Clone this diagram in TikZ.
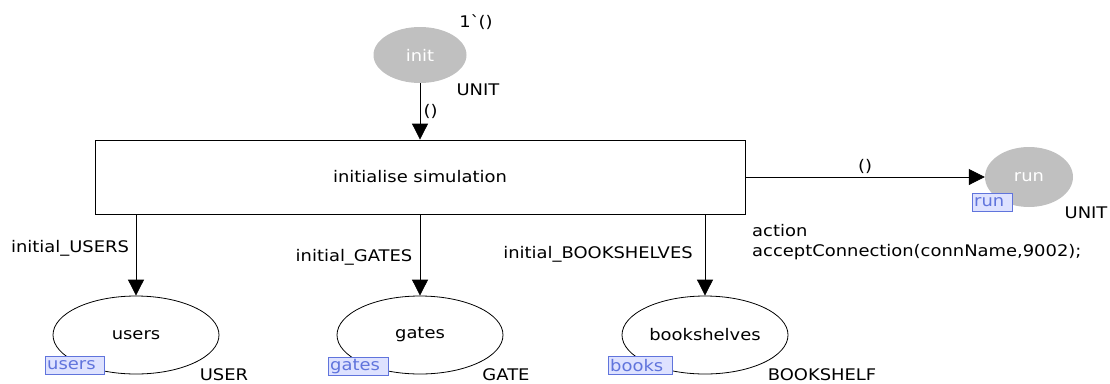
\documentclass[tikz,border=0pt]{standalone}
\usepackage{fontspec}
\setmainfont[FakeStretch=1.12]{DejaVu Sans}
\usetikzlibrary{shapes.geometric, arrows.meta, positioning}
\definecolor{fusefill}{RGB}{222, 226, 255}
\definecolor{fuseline}{RGB}{96, 116, 220}
\definecolor{plgray}{RGB}{192, 192, 192}

\begin{document}
\begin{tikzpicture}[
    x=1pt, y=-1pt,
    every node/.style={font=\fontsize{16}{20}\selectfont},
    place/.style={draw, ellipse, thick, minimum width=166pt, minimum height=78pt, inner sep=0pt},
    initplace/.style={ellipse, fill=plgray, text=white, inner sep=0pt},
    trans/.style={draw, thick, minimum width=650pt, minimum height=74pt},
    fuse/.style={draw=fuseline, fill=fusefill, text=fuseline, anchor=north west, inner xsep=2pt, inner ysep=0pt, minimum height=18pt, align=left},
    arc/.style={-{Triangle[length=16pt, width=16pt]}, thick}
]
    \useasboundingbox (0,0) rectangle (1110,383);

    % Places and transition
    \node[initplace, minimum width=93pt, minimum height=56pt] (init) at (420, 55) {init};
    \node[trans] (sim) at (420, 177) {initialise simulation};
    \node[initplace, minimum width=88pt, minimum height=60pt] (run) at (1029, 177) {run};
    \node[place] (users) at (136, 335) {users};
    \node[place] (gates) at (420, 335) {gates};
    \node[place] (shelves) at (705, 335) {bookshelves};

    % Fusion tags
    \node[fuse, text width=55pt] (fusers) at (45, 356) {users};
    \node[fuse, text width=56pt] (fgates) at (328, 357) {gates};
    \node[fuse, text width=60pt] (fbooks) at (608, 356) {books};
    \node[fuse, text width=36pt] (frun) at (972, 193) {run};

    % Colour sets and markings
    \node (mark) at (476, 22) {1\textasciigrave()};
    \node (cinit) at (478, 90) {UNIT};
    \node (crun) at (1086, 213) {UNIT};
    \node (cusers) at (224, 375) {USER};
    \node (cgates) at (506, 375) {GATE};
    \node (cshelves) at (822, 375) {BOOKSHELF};
    \node[anchor=west, align=left, inner sep=0pt] (act) at (752, 242) {action\\acceptConnection(connName,9002);};

    % Arcs
    \draw[arc] (init) -- (init |- sim.north) node[midway, right] {()};
    \draw[arc] (sim) -- (run) node[midway, above] {()};
    \draw[arc] (users |- sim.south) -- (users);
    \draw[arc] (gates |- sim.south) -- (gates);
    \draw[arc] (shelves |- sim.south) -- (shelves);

    % Arc inscriptions
    \node (lusers) at (70, 248) {initial\_USERS};
    \node (lgates) at (354, 257) {initial\_GATES};
    \node (lshelves) at (598, 254) {initial\_BOOKSHELVES};
\end{tikzpicture}
\end{document}
